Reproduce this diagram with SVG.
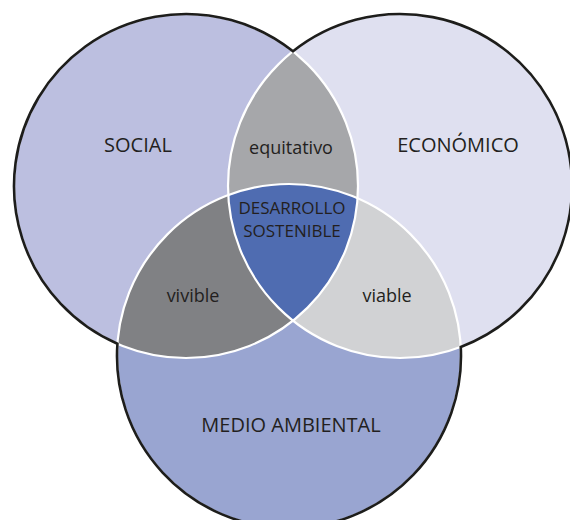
<svg xmlns="http://www.w3.org/2000/svg" width="570" height="520" viewBox="0 0 570 520">
<style>
text{font-family:"Open Sans","Noto Sans","DejaVu Sans",sans-serif;fill:#231f20;text-anchor:middle}
.big{font-size:20px}
.mid{font-size:18px}
.core{font-size:17px}
.sep{fill:none;stroke:#ffffff;stroke-width:2.2}
.outline{fill:none;stroke:#1d1d1b;stroke-width:2.6}
</style>
<defs>
<clipPath id="clipS"><circle cx="186" cy="186" r="172"/></clipPath>
<clipPath id="clipE"><circle cx="400" cy="186" r="172"/></clipPath>
</defs>
<rect width="570" height="520" fill="#ffffff"/>
<g id="social">
<circle cx="186" cy="186" r="172" fill="#bcbfe0"/>
<text class="big" x="138" y="152">SOCIAL</text>
</g>
<g id="economico">
<circle cx="400" cy="186" r="172" fill="#dfe0f0"/>
<text class="big" x="458" y="152">ECONÓMICO</text>
</g>
<g id="medio-ambiental">
<circle cx="289" cy="356" r="172" fill="#99a5d1"/>
<text class="big" x="291" y="432">MEDIO AMBIENTAL</text>
</g>
<g id="equitativo">
<circle cx="400" cy="186" r="172" fill="#a6a7aa" clip-path="url(#clipS)"/>
<text class="mid" x="291" y="154">equitativo</text>
</g>
<g id="vivible">
<circle cx="289" cy="356" r="172" fill="#808184" clip-path="url(#clipS)"/>
<text class="mid" x="193" y="302">vivible</text>
</g>
<g id="viable">
<circle cx="289" cy="356" r="172" fill="#d1d2d4" clip-path="url(#clipE)"/>
<text class="mid" x="387" y="302">viable</text>
</g>
<g id="desarrollo-sostenible">
<g clip-path="url(#clipE)">
<circle cx="289" cy="356" r="172" fill="#4f6cb1" clip-path="url(#clipS)"/>
</g>
<text class="core" x="292" y="214">DESARROLLO</text>
<text class="core" x="292" y="237">SOSTENIBLE</text>
</g>
<g id="lines">
<circle class="sep" cx="186" cy="186" r="172"/>
<circle class="sep" cx="400" cy="186" r="172"/>
<circle class="sep" cx="289" cy="356" r="172"/>
<path class="outline" d="M293,51.33 A172,172 0 1 0 117.43,343.74 A172,172 0 1 0 460.76,346.91 A172,172 0 1 0 293,51.33 Z"/>
</g>
</svg>
